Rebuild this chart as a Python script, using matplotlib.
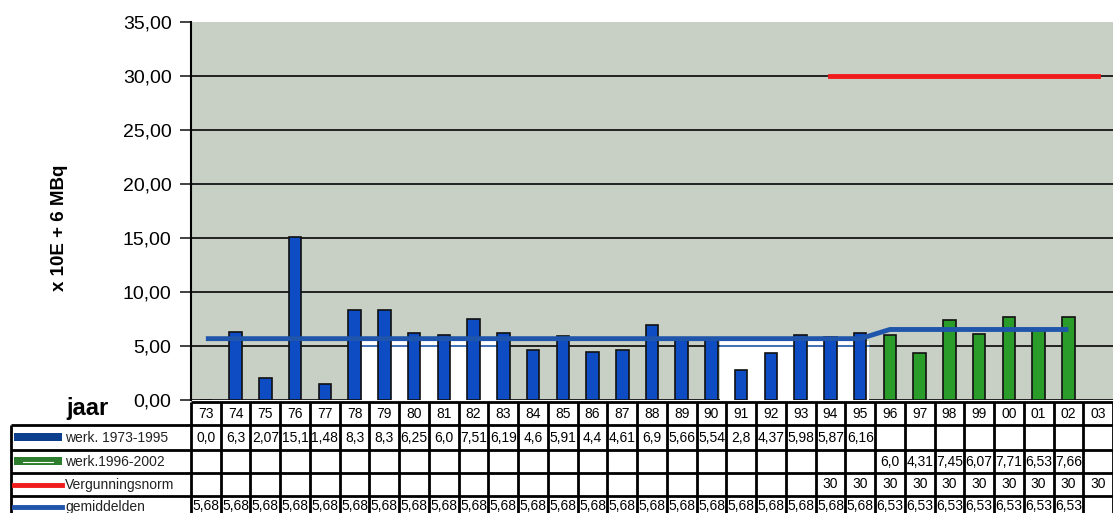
import matplotlib.pyplot as plt
import matplotlib.patches as mpatches
import numpy as np

plt.rcParams['font.family'] = ['Liberation Sans', 'DejaVu Sans']

# jaren 1973 - 2003
years = ['73', '74', '75', '76', '77', '78', '79', '80', '81', '82', '83', '84', '85', '86', '87',
         '88', '89', '90', '91', '92', '93', '94', '95', '96', '97', '98', '99', '00', '01', '02', '03']
werk_oud = [0.0, 6.3, 2.07, 15.1, 1.48, 8.3, 8.3, 6.25, 6.0, 7.51, 6.19, 4.6, 5.91, 4.4, 4.61,
            6.9, 5.66, 5.54, 2.8, 4.37, 5.98, 5.87, 6.16]          # 73 t/m 95
werk_nieuw = [6.0, 4.31, 7.45, 6.07, 7.71, 6.53, 7.66]              # 96 t/m 02
norm = [30, 30, 30, 30, 30, 30, 30, 30, 30, 30]                     # 94 t/m 03
gem_oud = 5.68
gem_nieuw = 6.53

n = len(years)
x = np.arange(n)
x_oud = x[:len(werk_oud)]
x_nieuw = x[23:23 + len(werk_nieuw)]
x_norm = x[21:21 + len(norm)]
gem = [gem_oud] * len(werk_oud) + [gem_nieuw] * len(werk_nieuw)
x_gem = x[:len(gem)]

W, H = 1120, 513
def px_rect(x0, y0, x1, y1):
    return [x0 / W, 1 - y1 / H, (x1 - x0) / W, (y1 - y0) / H]

BLUE = '#0e4cc4'
GREEN = '#2a9c2a'
RED = '#f01c1c'
LINEBLUE = '#1f55aa'
BG = '#c8cfc4'

fig = plt.figure(figsize=(11.2, 5.13), dpi=100)

# grafiek
ax = fig.add_axes(px_rect(191, 22, 1113, 400))
ax.set_facecolor(BG)
ax.set_xlim(-0.5, n - 0.5)
ax.set_ylim(0, 35)
ax.set_yticks(np.arange(0, 36, 5))
ax.set_yticklabels([f'{v:.2f}'.replace('.', ',') for v in np.arange(0, 36, 5)], fontsize=14)
ax.set_xticks([])
ax.tick_params(axis='y', length=8, width=1.2, pad=6, color='#222222')
for s in ['top', 'right', 'bottom']:
    ax.spines[s].set_visible(False)
ax.spines['left'].set_linewidth(1.5)
ax.set_axisbelow(True)
ax.yaxis.grid(True, color='#222222', lw=1.4)
ax.get_ygridlines()[-1].set_visible(False)

# witte vlakken onder het gemiddelde
for a, b in [(5.25, 10.2), (17.3, 22.3)]:
    ax.fill_between([a, b], 0, 5.42, color='white', lw=0, zorder=1)
    ax.plot([a, b], [5, 5], color=LINEBLUE, lw=1.2, zorder=1.5)

ax.bar(x_oud, werk_oud, width=0.42, color=BLUE, edgecolor='#111111', lw=1.2, zorder=2)
ax.bar(x_nieuw, werk_nieuw, width=0.42, color=GREEN, edgecolor='#111111', lw=1.2, zorder=2)
ax.plot(x_gem, gem, color=LINEBLUE, lw=3.5, solid_capstyle='butt', zorder=3)
ax.plot(x_norm, norm, color=RED, lw=3.5, zorder=3)

fig.text(60 / W, 1 - 228 / H, 'x 10E + 6 MBq', rotation=90, fontsize=13.5, fontweight='bold',
         ha='center', va='center')
fig.text(66 / W, 1 - 408 / H, 'jaar', fontsize=17, fontweight='bold', ha='left', va='center')

# tabel onder de grafiek
pitch = (1113 - 191) / n
def tx(px):
    return -0.5 + (px - 191) / pitch

tab = fig.add_axes(px_rect(0, 400, 1113, 513))
tab.set_xlim(tx(0), n - 0.5)
tab.set_ylim(113, 0)
tab.axis('off')

left = tx(11)
rows = [25, 50, 73, 96, 119]
tab.hlines(1.5, -0.5, n - 0.5, color='black', lw=2)
tab.hlines(rows[:-1], left, n - 0.5, color='black', lw=2)
tab.vlines(np.arange(n + 1) - 0.5, 1.5, 113, color='black', lw=2)
tab.vlines(left, rows[0], 113, color='black', lw=2)

fs = 10
for i, y in enumerate(years):
    tab.text(i, 13.5, y, ha='center', va='center', fontsize=fs)
for xi, v in zip(x_oud, werk_oud):
    tab.text(xi, 37.5, str(v).replace('.', ','), ha='center', va='center', fontsize=fs)
for xi, v in zip(x_nieuw, werk_nieuw):
    tab.text(xi, 61.5, str(v).replace('.', ','), ha='center', va='center', fontsize=fs)
for xi, v in zip(x_norm, norm):
    tab.text(xi, 84.5, str(v), ha='center', va='center', fontsize=fs)
for xi, v in zip(x_gem, gem):
    tab.text(xi, 106.5, str(v).replace('.', ','), ha='center', va='center', fontsize=fs)

# legenda in de eerste kolom
sw0, sw1 = tx(14), tx(62)
tab.add_patch(mpatches.Rectangle((sw0, 33), sw1 - sw0, 8, color='#0d3f8f', lw=0))
tab.add_patch(mpatches.Rectangle((sw0, 57), sw1 - sw0, 8, color='#2e7d2e', lw=0))
tab.plot([sw0 + 0.3, sw1 - 0.3], [62, 62], color='white', lw=0.8)
tab.plot([sw0, sw1], [84.5, 84.5], color=RED, lw=3.5)
tab.plot([sw0, sw1], [107, 107], color=LINEBLUE, lw=3.5)
labels = ['werk. 1973-1995', 'werk.1996-2002', 'Vergunningsnorm', 'gemiddelden']
for lab, y in zip(labels, [37.5, 61.5, 84.5, 107]):
    tab.text(tx(65), y, lab, ha='left', va='center', fontsize=fs, color='#222222')

fig.savefig('out.png', dpi=100)
